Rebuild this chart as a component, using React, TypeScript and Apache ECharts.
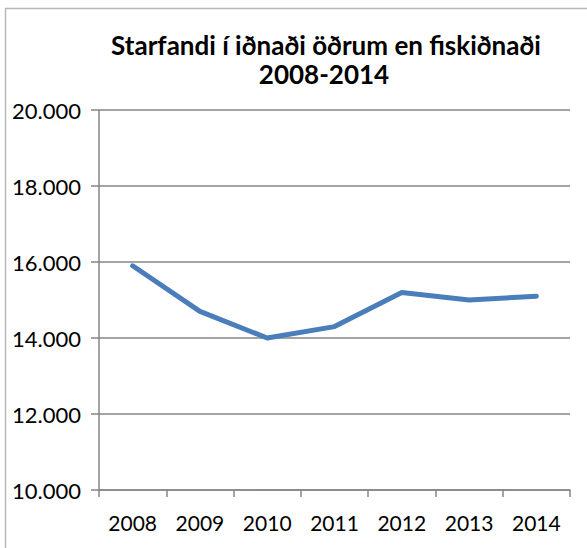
import React, { useEffect, useRef } from "react";
import * as echarts from "echarts";

const years = ["2008", "2009", "2010", "2011", "2012", "2013", "2014"];
const employed = [15900, 14700, 14000, 14300, 15200, 15000, 15100];
const titleLines = ["Starfandi í iðnaði öðrum en fiskiðnaði", "2008-2014"];

const FONT = "Lato";

export default function App() {
  const ref = useRef<HTMLDivElement>(null);
  useEffect(() => {
    const chart = echarts.init(ref.current!, null, { renderer: "svg" });
    chart.setOption({
      animation: false,
      backgroundColor: "#ffffff",
      grid: { left: 99, top: 110, right: 17, bottom: 58, containLabel: false },
      graphic: [
        {
          type: "rect",
          shape: { x: 5.5, y: 8.5, width: 700, height: 700 },
          style: { fill: "none", stroke: "#b8b8b8", lineWidth: 1.5 },
          silent: true,
          z: -1,
        },
        {
          type: "text",
          x: 326,
          y: 45,
          style: {
            text: titleLines[0],
            textAlign: "center",
            textVerticalAlign: "middle",
            font: `bold 26px ${FONT}`,
            fill: "#000000",
          },
        },
        {
          type: "text",
          x: 324,
          y: 74,
          style: {
            text: titleLines[1],
            textAlign: "center",
            textVerticalAlign: "middle",
            font: `bold 26px ${FONT}`,
            fill: "#000000",
          },
        },
      ],
      xAxis: {
        type: "category",
        data: years,
        boundaryGap: true,
        axisLine: { show: true, lineStyle: { color: "#868686", width: 1.5 } },
        axisTick: { show: true, length: 7, inside: false, alignWithLabel: false, lineStyle: { color: "#868686", width: 1.5 } },
        axisLabel: { color: "#000000", fontFamily: FONT, fontSize: 21, margin: 22 },
        splitLine: { show: false },
      },
      yAxis: {
        type: "value",
        min: 10000,
        max: 20000,
        interval: 2000,
        axisLine: { show: true, lineStyle: { color: "#868686", width: 1.5 } },
        axisTick: { show: true, length: 8, lineStyle: { color: "#868686", width: 1.5 } },
        axisLabel: {
          color: "#000000",
          fontFamily: FONT,
          fontSize: 22,
          margin: 18,
          formatter: (v: number) => v.toLocaleString("de-DE", { minimumFractionDigits: 0 }).replace(/,/g, "."),
        },
        splitLine: { show: true, lineStyle: { color: "#868686", width: 1.5 } },
      },
      series: [
        {
          type: "line",
          data: employed,
          showSymbol: false,
          symbol: "none",
          lineStyle: { color: "#4A7EBB", width: 5, cap: "round", join: "round" },
        },
      ],
    });
    return () => chart.dispose();
  }, []);
  return (
    <div
      ref={ref}
      style={{ position: "absolute", left: 0, top: 0, width: 587, height: 548 }}
    />
  );
}
